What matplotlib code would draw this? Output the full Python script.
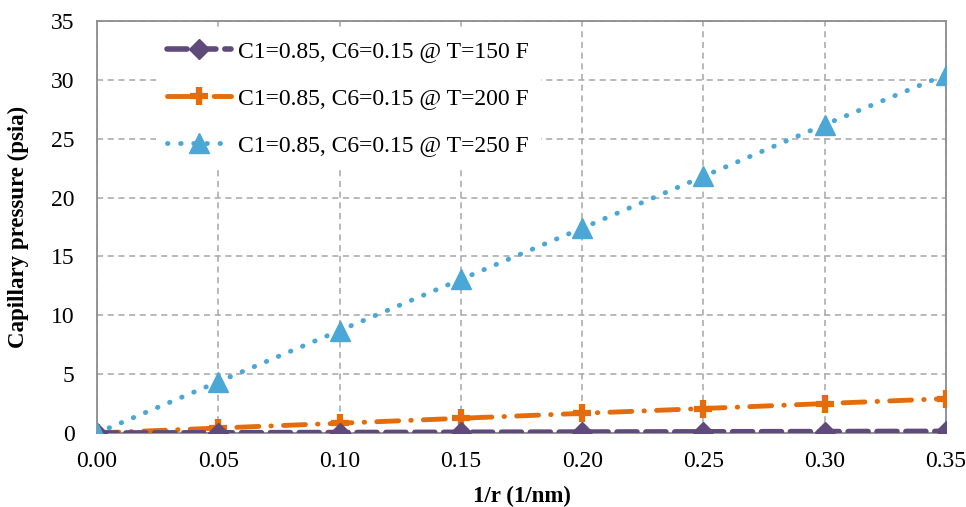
import matplotlib
matplotlib.use("Agg")
import matplotlib.pyplot as plt

inv_r = [0.00, 0.05, 0.10, 0.15, 0.20, 0.25, 0.30, 0.35]
pc_150 = [0.0, 0.02, 0.04, 0.06, 0.08, 0.10, 0.12, 0.14]
pc_200 = [0.0, 0.42, 0.83, 1.25, 1.67, 2.08, 2.50, 2.92]
pc_250 = [0.0, 4.35, 8.70, 13.05, 17.40, 21.80, 26.20, 30.45]
labels = ["C1=0.85, C6=0.15 @ T=150 F",
          "C1=0.85, C6=0.15 @ T=200 F",
          "C1=0.85, C6=0.15 @ T=250 F"]

plt.rcParams['font.family'] = ['Liberation Serif', 'DejaVu Serif']

fig = plt.figure(figsize=(9.66, 5.07), dpi=100)
ax = fig.add_axes([97 / 966, 74 / 507, 849 / 966, 412 / 507])

ax.plot(inv_r, pc_250, color='#4BA7D6', lw=3.5, ls=(0, (0.1, 2.6)),
        dash_capstyle='round', marker='^', ms=14, label=labels[2], zorder=5)
ax.plot(inv_r, pc_200, color='#E46C0A', lw=3.5, ls=(0, (4.5, 2.5, 0.1, 2.5)),
        dash_capstyle='round', marker='+', ms=13, mew=4.5, label=labels[1], zorder=3)
ax.plot(inv_r, pc_150, color='#604A7B', lw=4, ls=(0, (3.6, 1.6)),
        dash_capstyle='round', marker='D', ms=10, label=labels[0], zorder=4)

ax.set_xlim(0, 0.35)
ax.set_ylim(0, 35)
ax.set_xticks(inv_r)
ax.set_xticklabels([f"{v:.2f}" for v in inv_r])
ax.set_yticks(range(0, 36, 5))
ax.tick_params(axis='y', length=0, labelsize=17, pad=16)
ax.tick_params(axis='x', length=0, labelsize=17, pad=13)
ax.grid(color='#A6A6A6', ls=(0, (4, 3)), lw=1.1)
for s in ax.spines.values():
    s.set_color('#8C8C8C')
    s.set_linewidth(1.3)

ax.set_xlabel("1/r (1/nm)", fontsize=16.5, fontweight='bold', labelpad=10)
ax.set_ylabel("Capillary pressure (psia)", fontsize=16.5, fontweight='bold', labelpad=16)

h, l = ax.get_legend_handles_labels()
ax.legend(h[::-1], l[::-1], loc='upper left', bbox_to_anchor=(0.055, 1.01),
          frameon=True, facecolor='white', edgecolor='none', framealpha=1,
          fontsize=17, labelspacing=1.08, handlelength=2.7, handletextpad=0.3,
          borderpad=0.5)

fig.savefig("out.png", dpi=100, facecolor='white')
